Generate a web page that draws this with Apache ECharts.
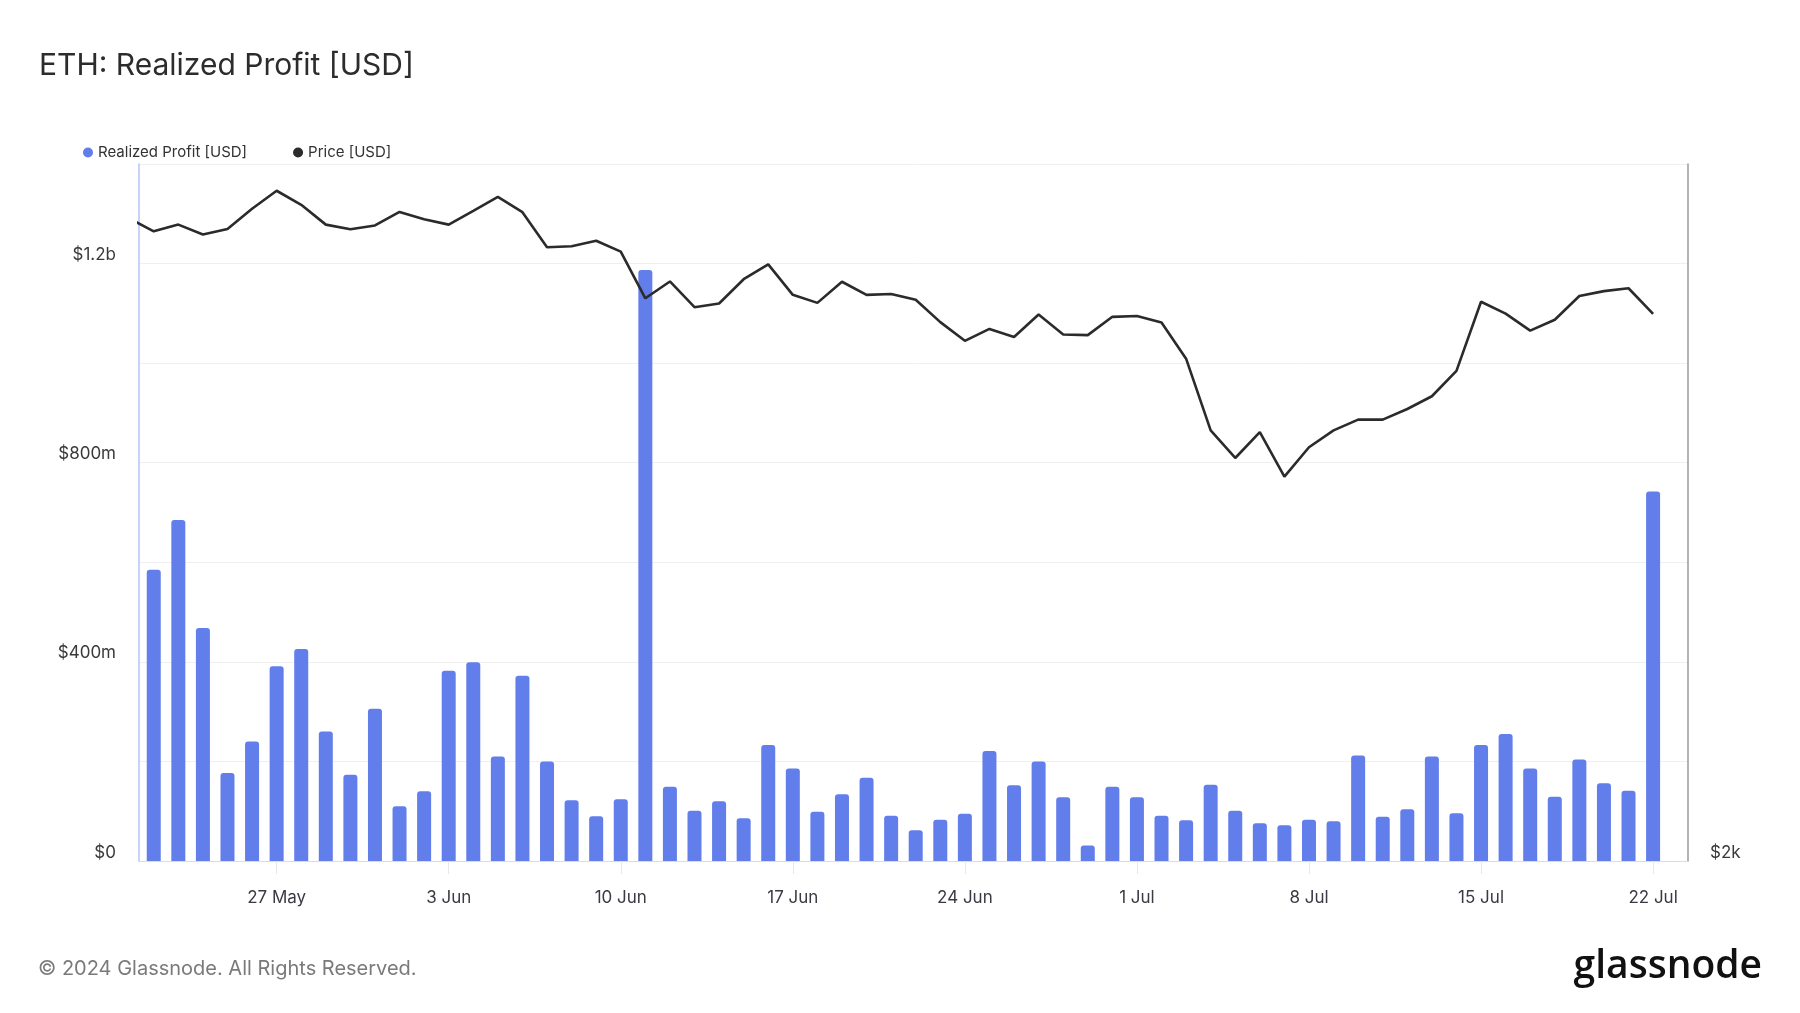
<!DOCTYPE html>
<html>
<head>
<meta charset="utf-8">
<style>
  html, body { margin: 0; padding: 0; background: #ffffff; }
  #chart { width: 1800px; height: 1013px; }
</style>
<script src="https://cdn.jsdelivr.net/npm/echarts@6/dist/echarts.min.js"></script>
</head>
<body>
<div id="chart"></div>
<script>
// ---- Data ----
const barDates = [
  '2024-05-22','2024-05-23','2024-05-24','2024-05-25','2024-05-26','2024-05-27','2024-05-28','2024-05-29','2024-05-30','2024-05-31',
  '2024-06-01','2024-06-02','2024-06-03','2024-06-04','2024-06-05','2024-06-06','2024-06-07','2024-06-08','2024-06-09','2024-06-10',
  '2024-06-11','2024-06-12','2024-06-13','2024-06-14','2024-06-15','2024-06-16','2024-06-17','2024-06-18','2024-06-19','2024-06-20',
  '2024-06-21','2024-06-22','2024-06-23','2024-06-24','2024-06-25','2024-06-26','2024-06-27','2024-06-28','2024-06-29','2024-06-30',
  '2024-07-01','2024-07-02','2024-07-03','2024-07-04','2024-07-05','2024-07-06','2024-07-07','2024-07-08','2024-07-09','2024-07-10',
  '2024-07-11','2024-07-12','2024-07-13','2024-07-14','2024-07-15','2024-07-16','2024-07-17','2024-07-18','2024-07-19','2024-07-20',
  '2024-07-21','2024-07-22'
];
// Realized profit, millions of USD
const realizedProfitM = [
  585, 685, 468, 177, 240, 391, 426, 260, 173, 306,
  110, 140, 382, 399, 210, 372, 200, 122, 90, 124,
  1187, 149, 101, 120, 86, 233, 186, 99, 134, 167,
  91, 62, 83, 95, 221, 152, 200, 128, 31, 149,
  128, 91, 82, 153, 101, 76, 72, 83, 80, 212,
  89, 104, 210, 96, 233, 255, 186, 129, 204, 156,
  141, 742
];
const priceDates = ['2024-05-21'].concat(barDates);
// ETH price, USD
const priceUsd = [
  3789,
  3741, 3766, 3729, 3750, 3826, 3895, 3841, 3766, 3749, 3763,
  3814, 3786, 3766, 3818, 3871, 3813, 3682, 3686, 3706, 3666,
  3500, 3559, 3469, 3482, 3567, 3620, 3512, 3484, 3558, 3512,
  3515, 3495, 3418, 3355, 3395, 3368, 3444, 3376, 3374, 3436,
  3439, 3417, 3296, 3069, 2986, 3064, 2931, 3018, 3069, 3102,
  3102, 3135, 3175, 3256, 3488, 3447, 3389, 3426, 3508, 3525,
  3535, 3446
];
const xTickDates = ['2024-05-27','2024-06-03','2024-06-10','2024-06-17','2024-06-24','2024-07-01','2024-07-08','2024-07-15','2024-07-22'];
const xTickLabels = ['27 May','3 Jun','10 Jun','17 Jun','24 Jun','1 Jul','8 Jul','15 Jul','22 Jul'];
const leftTickLabels = { 0: '$0', 400: '$400m', 800: '$800m', 1200: '$1.2b' };
const rightTickValues = [2000];
const rightTickLabels = ['$2k'];

// ---- Build ----
const DAY = 86400000;
const ts = s => Date.parse(s + 'T00:00:00Z');
const barData = barDates.map((d, i) => [ts(d), realizedProfitM[i] * 1e6]);
const lineData = priceDates.map((d, i) => [ts(d), priceUsd[i]]);
const tickTs = xTickDates.map(ts);

const FONT = 'Inter, "Noto Sans", sans-serif';
const chart = echarts.init(document.getElementById('chart'), null, { renderer: 'canvas' });

chart.setOption({
  animation: false,
  backgroundColor: '#ffffff',
  textStyle: { fontFamily: FONT },
  title: {
    text: 'ETH: Realized Profit [USD]',
    left: 34, top: 46,
    textStyle: { fontFamily: FONT, fontSize: 30, fontWeight: 'normal', color: '#2c2c2c' }
  },
  legend: {
    left: 78, top: 140,
    icon: 'circle', itemWidth: 10, itemHeight: 10, itemGap: 46,
    textStyle: { fontFamily: FONT, fontSize: 15, color: '#333333' },
    data: [
      { name: 'Realized Profit [USD]', itemStyle: { color: '#627EEA' } },
      { name: 'Price [USD]', itemStyle: { color: '#2b2b2b' } }
    ]
  },
  grid: { left: 139, right: 112, top: 164, bottom: 152, containLabel: false },
  xAxis: {
    type: 'value',
    min: ts('2024-05-22') - 0.6 * DAY,
    max: ts('2024-07-22') + 1.42 * DAY,
    axisLine: { show: true, lineStyle: { color: '#dcdcdc', width: 1 } },
    axisTick: { show: true, customValues: tickTs, length: 13, lineStyle: { color: '#e8e8e8' } },
    axisLabel: {
      customValues: tickTs,
      margin: 28,
      fontFamily: FONT, fontSize: 17, color: '#3a3a44',
      formatter: v => { const i = tickTs.indexOf(v); return i >= 0 ? xTickLabels[i] : ''; }
    },
    splitLine: { show: false }
  },
  yAxis: [
    {
      type: 'value', position: 'left',
      min: 0, max: 1.4e9, interval: 2e8,
      axisLine: { show: true, lineStyle: { color: '#b7c4f4', width: 1.5 } },
      axisTick: { show: false },
      splitLine: { show: true, lineStyle: { color: '#efefef', width: 1 } },
      axisLabel: {
        margin: 23,
        fontFamily: FONT, fontSize: 17, color: '#3a3a3a',
        verticalAlign: 'bottom',
        formatter: v => { const k = Math.round(v / 1e6); return leftTickLabels[k] !== undefined ? leftTickLabels[k] : ''; }
      }
    },
    {
      type: 'log', logBase: 2, position: 'right',
      min: 2000, max: 4000,
      axisLine: { show: true, lineStyle: { color: '#9a9a9a', width: 1.5 } },
      axisTick: { show: false },
      splitLine: { show: false },
      axisLabel: {
        margin: 22,
        fontFamily: FONT, fontSize: 17, color: '#3a3a3a',
        verticalAlign: 'bottom',
        formatter: v => { const i = rightTickValues.findIndex(t => Math.abs(t - v) < 1); return i >= 0 ? rightTickLabels[i] : ''; }
      }
    }
  ],
  series: [
    {
      name: 'Realized Profit [USD]',
      type: 'bar',
      yAxisIndex: 0,
      data: barData,
      barWidth: 14,
      itemStyle: { color: '#627EEA', borderRadius: [3, 3, 0, 0] },
      z: 2
    },
    {
      name: 'Price [USD]',
      type: 'line',
      yAxisIndex: 1,
      data: lineData,
      showSymbol: false,
      symbol: 'none',
      clip: true,
      lineStyle: { color: '#2b2b2b', width: 2.6 },
      itemStyle: { color: '#2b2b2b' },
      z: 3
    }
  ],
  graphic: [
    {
      type: 'text', left: 38, top: 959,
      style: { text: '© 2024 Glassnode. All Rights Reserved.', fontFamily: FONT, fontSize: 20, fill: '#7a7a7a' }
    },
    {
      type: 'text', right: 38, top: 947,
      style: { text: 'glassnode', fontFamily: '"Open Sans", Lato, sans-serif', fontSize: 39, fontWeight: 600, fill: '#111111' }
    }
  ]
});
</script>
</body>
</html>
